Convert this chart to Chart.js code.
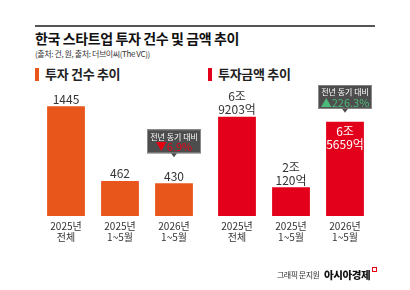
<!DOCTYPE html>
<html>
<head>
<meta charset="utf-8">
<script src="https://cdn.jsdelivr.net/npm/chart.js@4.4.1/dist/chart.umd.min.js"></script>
<style>
  body { margin:0; width:410px; height:290px; background:#fff; position:relative; overflow:hidden;
         font-family:"Noto Sans CJK KR", sans-serif; color:#222; }
  .t { position:absolute; white-space:nowrap; }
  #rule { position:absolute; left:35px; top:25px; width:340px; border-top:2px solid #555; }
  #title { left:35px; top:30px; font-size:14px; line-height:16px; font-weight:700; letter-spacing:-0.4px; color:#111; }
  #sub { left:35px; top:49px; font-size:8px; line-height:10px; letter-spacing:-0.4px; color:#333; }
  .mark { position:absolute; top:68px; width:4px; height:13px; }
  .leg { top:66px; font-size:13px; line-height:16px; font-weight:700; letter-spacing:-0.3px; color:#222; }
  canvas { position:absolute; top:85px; }
  #credit { left:277px; top:270px; font-size:8px; line-height:10px; letter-spacing:-0.5px; color:#333; }
  #brand { left:324px; top:269px; font-size:10.5px; line-height:12px; font-weight:900; letter-spacing:-0.4px; color:#111; }
  #icon { position:absolute; left:372px; top:267px; width:3px; height:3px; border:1px solid #e60012; }
</style>
</head>
<body>
<div id="rule"></div>
<div class="t" id="title">한국 스타트업 투자 건수 및 금액 추이</div>
<div class="t" id="sub">(출처: 건, 원, 출처: 더브이씨(The VC))</div>
<div class="mark" style="left:35px;background:#e8561c"></div>
<div class="t leg" style="left:45px">투자 건수 추이</div>
<div class="mark" style="left:208px;background:#e2001a"></div>
<div class="t leg" style="left:218px">투자금액 추이</div>
<canvas id="countChart" width="180" height="185" style="left:30px"></canvas>
<canvas id="amountChart" width="180" height="185" style="left:205px"></canvas>
<div class="t" id="credit">그래픽 문지원</div>
<div class="t" id="brand">아시아경제</div>
<div id="icon"></div>
<script>
// data
var categories = [['2025년', '전체'], ['2025년', '1~5월'], ['2026년', '1~5월']];
var counts = [1445, 462, 430];            // 건
var amounts = [69203, 20120, 65659];      // 억원
var countLabels = [['1445'], ['462'], ['430']];
var amountLabels = [['6조', '9203억'], ['2조', '120억'], ['6조', '5659억']];

var FONT = '"Noto Sans CJK KR", sans-serif';

function pct(a, b) {
    return Math.abs((a / b - 1) * 100).toFixed(1) + '%';
}

var barLabels = {
    id: 'barLabels',
    afterDatasetsDraw: function (chart, args, opts) {
        var ctx = chart.ctx;
        var bars = chart.getDatasetMeta(0).data;
        ctx.save();
        ctx.textAlign = 'center';
        ctx.textBaseline = 'middle';
        bars.forEach(function (bar, i) {
            var lines = opts.text[i];
            var inside = opts.inside && opts.inside[i];
            ctx.font = '400 12px ' + FONT;
            ctx.fillStyle = inside ? '#fff' : '#333';
            lines.forEach(function (s, k) {
                var y;
                if (inside) y = bar.y + 10 + k * 13;
                else y = bar.y - 7 - (lines.length - 1 - k) * 13;
                ctx.fillText(s, bar.x, y);
            });
        });

        // year-on-year box
        var n = opts.note;
        if (n) {
            var b = bars[n.index];
            var w = 54, h = 24;
            var bottom = b.y - n.gap, top = bottom - h, left = b.x - w / 2;
            ctx.fillStyle = '#4d4d4d';
            ctx.strokeStyle = '#8a8a8a';
            ctx.lineWidth = 1;
            ctx.fillRect(left, top, w, h);
            ctx.strokeRect(left + 0.5, top + 0.5, w - 1, h - 1);
            ctx.beginPath();
            ctx.moveTo(b.x - 3, bottom);
            ctx.lineTo(b.x + 3, bottom);
            ctx.lineTo(b.x, bottom + 4);
            ctx.closePath();
            ctx.fill();
            ctx.fillStyle = '#fff';
            ctx.font = '400 8px ' + FONT;
            ctx.fillText('전년 동기 대비', b.x, top + 7.5);
            ctx.fillStyle = n.color;
            ctx.font = '400 11px ' + FONT;
            ctx.fillText(n.text, b.x, top + 17.5);
        }
        ctx.restore();
    }
};

function makeChart(id, values, color, max, pad, labelOpts) {
    return new Chart(document.getElementById(id), {
        type: 'bar',
        data: {
            labels: categories,
            datasets: [{
                data: values,
                backgroundColor: color,
                barPercentage: 0.7,
                categoryPercentage: 1
            }]
        },
        options: {
            responsive: false,
            animation: false,
            layout: { padding: pad },
            plugins: {
                legend: { display: false },
                tooltip: { enabled: false },
                barLabels: labelOpts
            },
            scales: {
                x: {
                    grid: { display: false, drawTicks: false },
                    border: { display: false },
                    ticks: {
                        padding: 5,
                        color: '#333',
                        maxRotation: 0,
                        autoSkip: false,
                        font: { family: FONT, size: 10, lineHeight: 1.1 }
                    }
                },
                y: { display: false, min: 0, max: max }
            }
        },
        plugins: [barLabels]
    });
}

makeChart('countChart', counts, '#e8561c', 1724,
    { left: 9, right: 9, top: 0, bottom: 22 },
    { text: countLabels, note: { index: 2, gap: 30, color: '#e60012', text: '▼' + pct(counts[2], counts[1]) } });

makeChart('amountChart', amounts, '#e2001a', 91375,
    { left: 5, right: 13, top: 0, bottom: 22 },
    { text: amountLabels, inside: [false, false, true],
      note: { index: 2, gap: 13, color: '#4cbb7a', text: '▲' + pct(amounts[2], amounts[1]) } });
</script>
</body>
</html>
